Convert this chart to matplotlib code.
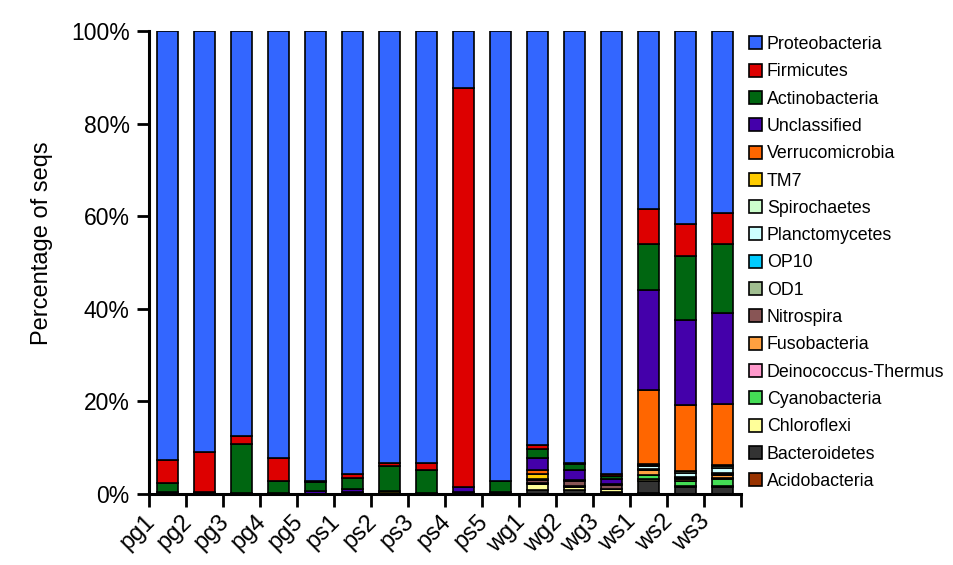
import matplotlib
matplotlib.use("Agg")
import matplotlib.pyplot as plt
import matplotlib.transforms as mtransforms
import numpy as np

plt.rcParams['font.family'] = ['Liberation Sans', 'DejaVu Sans']

samples = ['pg1', 'pg2', 'pg3', 'pg4', 'pg5', 'ps1', 'ps2', 'ps3', 'ps4', 'ps5',
           'wg1', 'wg2', 'wg3', 'ws1', 'ws2', 'ws3']

# phyla, bottom of the stack first
phyla = ['Acidobacteria', 'Bacteroidetes', 'Chloroflexi', 'Cyanobacteria',
         'Deinococcus-Thermus', 'Fusobacteria', 'Nitrospira', 'OD1', 'OP10',
         'Planctomycetes', 'Spirochaetes', 'TM7', 'Verrucomicrobia',
         'Unclassified', 'Actinobacteria', 'Firmicutes', 'Proteobacteria']

colors = ['#993300', '#333333', '#FFFF99', '#44DD55', '#FF99CC', '#FFA040',
          '#885555', '#A0BE90', '#00CCFF', '#CCFFFF', '#CCFFCC', '#FFCC00',
          '#FF6600', '#4400AA', '#006611', '#DD0000', '#3366FF']

# percentage of seqs per sample
#                pg1   pg2   pg3   pg4   pg5   ps1   ps2   ps3   ps4   ps5   wg1   wg2   wg3   ws1   ws2   ws3
acidobacteria = [0.1,  0.1,  0.0,  0.0,  0.0,  0.0,  0.0,  0.0,  0.0,  0.0,  0.0,  0.0,  0.0,  0.2,  0.1,  0.1]
bacteroidetes = [0.0,  0.2,  0.3,  0.0,  0.0,  0.4,  0.2,  0.0,  0.4,  0.0,  0.9,  0.8,  0.4,  2.5,  1.4,  1.4]
chloroflexi   = [0.0,  0.0,  0.0,  0.0,  0.0,  0.0,  0.0,  0.0,  0.0,  0.0,  1.2,  0.8,  0.7,  0.6,  0.2,  0.3]
cyanobacteria = [0.0,  0.0,  0.0,  0.0,  0.0,  0.0,  0.0,  0.0,  0.0,  0.0,  0.0,  0.0,  0.0,  0.8,  1.0,  1.5]
deinococcus   = [0.0,  0.0,  0.0,  0.0,  0.0,  0.0,  0.0,  0.0,  0.0,  0.0,  0.0,  0.0,  0.0,  0.1,  0.1,  0.1]
fusobacteria  = [0.0,  0.0,  0.0,  0.0,  0.0,  0.0,  0.0,  0.0,  0.0,  0.0,  0.2,  0.2,  0.0,  0.9,  0.5,  0.6]
nitrospira    = [0.0,  0.0,  0.0,  0.0,  0.0,  0.0,  0.0,  0.0,  0.0,  0.0,  0.7,  0.9,  0.8,  0.1,  0.2,  0.2]
od1           = [0.0,  0.0,  0.0,  0.0,  0.0,  0.0,  0.0,  0.0,  0.0,  0.0,  0.3,  0.3,  0.3,  0.1,  0.1,  0.2]
op10          = [0.0,  0.0,  0.0,  0.0,  0.0,  0.0,  0.0,  0.0,  0.0,  0.0,  0.0,  0.0,  0.0,  0.2,  0.1,  0.2]
planctomycetes = [0.0, 0.0,  0.0,  0.0,  0.0,  0.0,  0.0,  0.0,  0.0,  0.0,  0.0,  0.0,  0.0,  0.5,  0.9,  1.0]
spirochaetes  = [0.0,  0.0,  0.0,  0.0,  0.0,  0.0,  0.0,  0.0,  0.0,  0.0,  0.0,  0.0,  0.0,  0.3,  0.3,  0.4]
tm7           = [0.0,  0.0,  0.0,  0.0,  0.0,  0.0,  0.5,  0.0,  0.0,  0.0,  1.1,  0.0,  0.0,  0.1,  0.1,  0.3]
verrucomicrobia = [0.0, 0.0, 0.0,  0.0,  0.0,  0.0,  0.0,  0.0,  0.0,  0.0,  0.7,  0.0,  0.0, 16.1, 14.2, 13.1]
unclassified  = [0.4,  0.0,  0.0,  0.2,  0.6,  0.6,  0.0,  0.3,  1.1,  0.5,  2.7,  2.1,  1.1, 21.6, 18.3, 19.6]
actinobacteria = [1.9, 0.2, 10.6,  2.6,  1.9,  2.5,  5.3,  4.9,  0.0,  2.3,  1.9,  1.3,  0.6,  9.9, 13.8, 14.9]
firmicutes    = [5.0,  8.6,  1.6,  5.0,  0.2,  0.9,  0.7,  1.4, 86.2,  0.0,  0.9,  0.4,  0.4,  7.6,  7.0,  6.7]
proteobacteria = [92.6, 90.9, 87.5, 92.2, 97.3, 95.6, 93.3, 93.4, 12.3, 97.2, 89.4, 93.2, 95.7, 38.4, 41.7, 39.4]

values = [acidobacteria, bacteroidetes, chloroflexi, cyanobacteria, deinococcus,
          fusobacteria, nitrospira, od1, op10, planctomycetes, spirochaetes, tm7,
          verrucomicrobia, unclassified, actinobacteria, firmicutes, proteobacteria]

fig = plt.figure(figsize=(9.54, 5.65), dpi=100)
ax = fig.add_axes([149 / 954, 71 / 565, 592 / 954, 463 / 565])

x = np.arange(len(samples))
bottom = np.zeros(len(samples))
handles = []
for name, col, vals in zip(phyla, colors, values):
    vals = np.array(vals)
    b = ax.bar(x, vals, width=0.57, bottom=bottom, color=col,
               edgecolor='black', linewidth=1.2, label=name)
    handles.append(b)
    bottom += vals

ax.set_xlim(-0.5, len(samples) - 0.5)
ax.set_ylim(0, 100)

ax.set_yticks(range(0, 101, 20))
ax.set_yticklabels([f'{v}%' for v in range(0, 101, 20)], fontsize=16.5)
ax.tick_params(axis='y', direction='out', length=9, width=2, pad=5)

# labels at bar centres, tick marks at the boundaries
ax.set_xticks(x)
ax.set_xticklabels(samples, fontsize=17, rotation=45, ha='right', va='top')
ax.set_xticks(np.arange(-0.5, len(samples), 1), minor=True)
ax.tick_params(axis='x', which='major', length=0, pad=12)
ax.tick_params(axis='x', which='minor', direction='out', length=9, width=2)
offset = mtransforms.ScaledTranslation(-8 / 100, 0, fig.dpi_scale_trans)
for lab in ax.get_xticklabels():
    lab.set_transform(lab.get_transform() + offset)

for side in ['top', 'right']:
    ax.spines[side].set_visible(False)
for side in ['left', 'bottom']:
    ax.spines[side].set_linewidth(2.2)

ax.set_ylabel('Percentage of seqs', fontsize=17)
ax.yaxis.set_label_coords(-0.162, 0.541)

leg = fig.legend(handles[::-1], phyla[::-1], loc='upper left',
                 bbox_to_anchor=(749 / 954, (565 - 36) / 565),
                 frameon=False, fontsize=12.8, handlelength=0.75,
                 handleheight=0.75, handletextpad=0.25, labelspacing=0.58,
                 borderpad=0, borderaxespad=0)

fig.savefig('out.png', dpi=100)
